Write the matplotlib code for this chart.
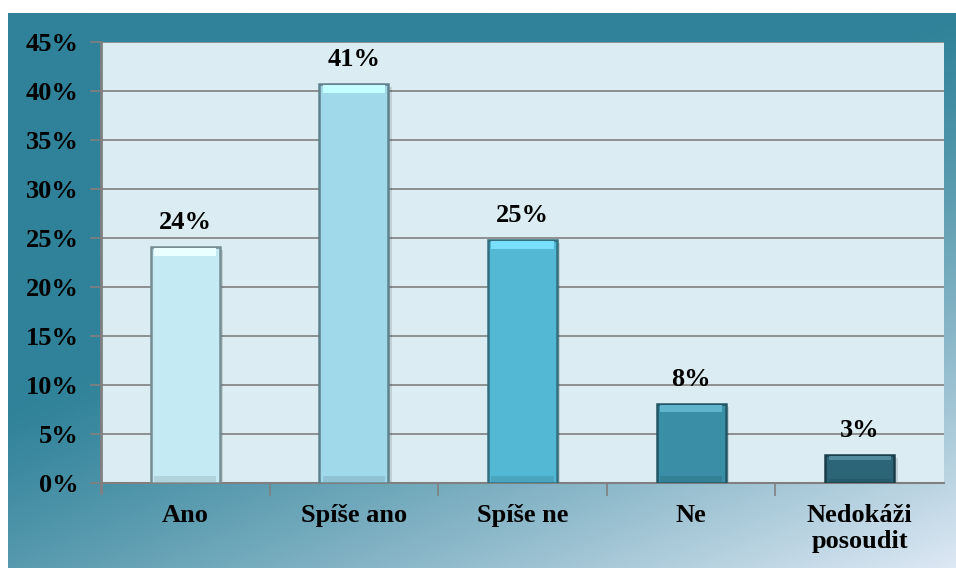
import numpy as np
import matplotlib
matplotlib.use("Agg")
import matplotlib.pyplot as plt
from matplotlib.colors import to_rgb

categories = ["Ano", "Spíše ano", "Spíše ne", "Ne", "Nedokáži\nposoudit"]
values = [24.1, 40.7, 24.8, 8.1, 2.9]
yticks = [0, 5, 10, 15, 20, 25, 30, 35, 40, 45]
bar_colors = ["#c4eaf4", "#a0d9ea", "#52b8d3", "#3a8ea6", "#2b6577"]

W, H = 956, 568
fig = plt.figure(figsize=(W / 100, H / 100), dpi=100)
fig.patch.set_facecolor("white")

# gradient background panel
bg = fig.add_axes([8 / W, 0, 1 - 8 / W, (H - 13) / H])
bg.set_axis_off()
nx, ny = 300, 200
xx, yy = np.meshgrid(np.linspace(0, 1, nx), np.linspace(0, 1, ny))
t = np.clip(((xx * 0.6 + yy * 0.85) - 0.6) / 0.85, 0, 1) ** 1.2
c0 = np.array(to_rgb("#2f8299"))
c1 = np.array(to_rgb("#dde8f4"))
img = c0[None, None, :] * (1 - t[..., None]) + c1[None, None, :] * t[..., None]
bg.imshow(img, aspect="auto", extent=[0, 1, 0, 1], origin="upper")
bg.set_xlim(0, 1)
bg.set_ylim(0, 1)

ax = fig.add_axes([101 / W, (H - 483) / H, (944 - 101) / W, (483 - 42) / H])
ax.set_facecolor("#dbedf3")
ax.set_ylim(0, 45)
ax.set_xlim(-0.5, len(categories) - 0.5)
ax.set_yticks(yticks)
ax.set_yticklabels([f"{v}%" for v in yticks])
ax.yaxis.grid(True, color="#808080", linewidth=1.2)
ax.set_axisbelow(True)

x = np.arange(len(categories))
for i, (v, c) in enumerate(zip(values, bar_colors)):
    rgb = np.array(to_rgb(c))
    dark = rgb * 0.6
    # shadow
    ax.bar(x[i] + 0.02, v, width=0.41, bottom=-0.3, color="#000000", alpha=0.12, zorder=2)
    ax.bar(x[i], v, width=0.41, color=c, edgecolor=dark, linewidth=1.8, zorder=3)
    # top bevel highlight
    hl = np.clip(rgb + 0.15, 0, 1)
    h = min(0.8, v * 0.15)
    ax.bar(x[i], h, width=0.37, bottom=v - h - 0.1,
           color=hl, linewidth=0, zorder=4)
    # bottom shade
    ax.bar(x[i], min(0.6, v * 0.1), width=0.37, bottom=0.1,
           color=rgb * 0.9, linewidth=0, zorder=4)
    ax.text(x[i], v + 1.3, f"{v:.0f}%", ha="center", va="bottom",
            fontsize=19, fontweight="bold", family="Liberation Serif", zorder=5)

ax.set_xticks(x)
ax.set_xticklabels(categories, linespacing=1.2)
ax.set_xticks(np.arange(0.5, len(categories) - 0.5, 1), minor=True)
ax.tick_params(axis="x", which="major", length=0, pad=15)
ax.tick_params(axis="x", which="minor", length=9, color="#808080", width=1.2, direction="out")
ax.tick_params(axis="y", length=8, color="#808080", width=1.2, pad=8)
for lbl in ax.get_xticklabels() + ax.get_yticklabels():
    lbl.set_fontfamily("Liberation Serif")
    lbl.set_fontweight("bold")
    lbl.set_fontsize(19)
for s in ["top", "right"]:
    ax.spines[s].set_visible(False)
ax.spines["left"].set_color("#808080")
ax.spines["left"].set_linewidth(2)
ax.spines["bottom"].set_color("#808080")
ax.spines["bottom"].set_linewidth(1.5)
ax.spines["left"].set_bounds(-1, 45)
ax.set_ylim(0, 45)

fig.savefig("out.png", dpi=100)
